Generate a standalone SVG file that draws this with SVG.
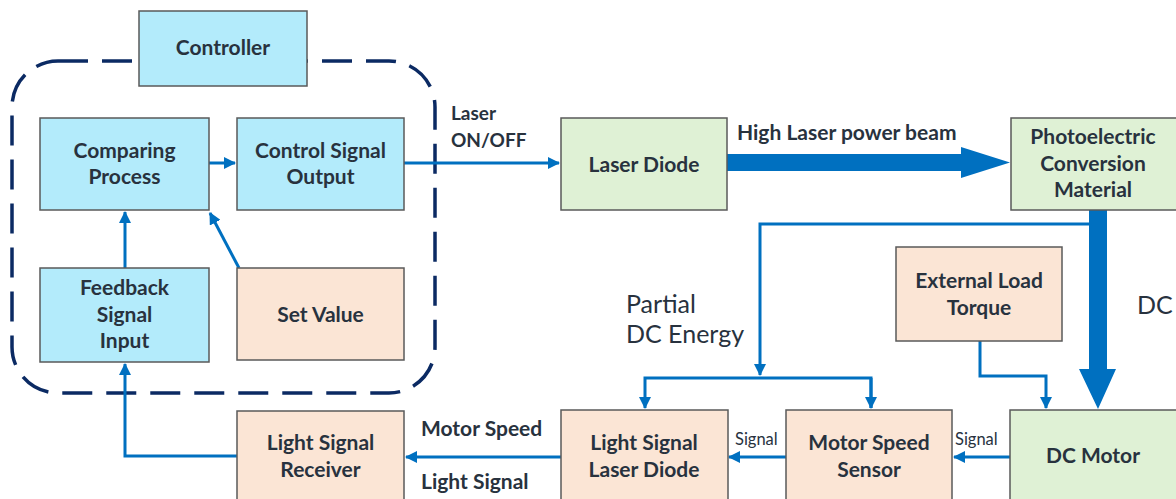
<svg xmlns="http://www.w3.org/2000/svg" width="1176" height="499" viewBox="0 0 1176 499">
<style>
.blue{fill:#b3ebfb;stroke:#5a5a5a;stroke-width:1.5}
.peach{fill:#fbe5d5;stroke:#5a5a5a;stroke-width:1.5}
.green{fill:#dff1d5;stroke:#5a5a5a;stroke-width:1.5}
text{font-family:Lato,"Liberation Sans",sans-serif;fill:#28323e}
.n{font-size:21px;font-weight:bold;text-anchor:middle}
.lb{font-size:21px;font-weight:bold}
.ls{font-size:19px;font-weight:bold}
.lr{font-size:25px}
.sm{font-size:16.5px}
.c{fill:none;stroke:#0070c0;stroke-width:3}
.thick{fill:#0070c0}
</style>
<defs>
<marker id="ah" markerUnits="userSpaceOnUse" markerWidth="12" markerHeight="12" refX="11" refY="6" orient="auto">
<path d="M0,0 L12,6 L0,12 z" fill="#0070c0"/>
</marker>
</defs>
<rect id="boundary" x="12" y="61" width="423" height="332" rx="46" ry="46" fill="none" stroke="#0b2a63" stroke-width="3.5" stroke-dasharray="30 14"/>
<g id="connectors">
<path class="c" d="M209,163 H235" marker-end="url(#ah)"/>
<path class="c" d="M404,163 H559" marker-end="url(#ah)"/>
<path class="c" d="M125,268 V212" marker-end="url(#ah)"/>
<path class="c" d="M239,268 L210,213" marker-end="url(#ah)"/>
<path class="c" d="M237,456 H125 V364" marker-end="url(#ah)"/>
<path class="c" d="M561,457 H406" marker-end="url(#ah)"/>
<path class="c" d="M786,457 H729" marker-end="url(#ah)"/>
<path class="c" d="M1010,457 H954" marker-end="url(#ah)"/>
<path class="c" d="M1090,224 H760 V375" marker-end="url(#ah)"/>
<path class="c" d="M871,408 V378 H645 V408" marker-end="url(#ah)"/>
<path class="c" d="M871,378 V408" marker-end="url(#ah)"/>
<path class="c" d="M980,341 V376 H1046 V408" marker-end="url(#ah)"/>
<polygon class="thick" points="727,154 961,154 961,147 1010,162.5 961,178 961,171 727,171"/>
<polygon class="thick" points="1089,210 1107,210 1107,369 1116,369 1098,409 1079,369 1089,369"/>
<text class="ls" x="451" y="120">Laser</text>
<text class="ls" x="451" y="147">ON/OFF</text>
<text class="lb" x="737" y="140">High Laser power beam</text>
<text class="lr" x="626" y="313">Partial</text>
<text class="lr" x="626" y="343">DC Energy</text>
<text class="lr" x="1137" y="314">DC</text>
<text class="sm" x="735" y="445">Signal</text>
<text class="sm" x="955" y="445">Signal</text>
<text class="lb" x="421" y="436">Motor Speed</text>
<text class="lb" x="421" y="489">Light Signal</text>
</g>
<g id="controller"><rect class="blue" x="139" y="11" width="168" height="75"/><text class="n" x="223" y="55">Controller</text></g>
<g id="comparing"><rect class="blue" x="40" y="118" width="169" height="92"/><text class="n" x="124.5" y="158">Comparing</text><text class="n" x="124.5" y="184">Process</text></g>
<g id="control-output"><rect class="blue" x="237" y="118" width="167" height="92"/><text class="n" x="320.5" y="158">Control Signal</text><text class="n" x="320.5" y="184">Output</text></g>
<g id="feedback"><rect class="blue" x="40" y="268" width="169" height="94"/><text class="n" x="124.5" y="295">Feedback</text><text class="n" x="124.5" y="322">Signal</text><text class="n" x="124.5" y="348">Input</text></g>
<g id="set-value"><rect class="peach" x="237" y="268" width="167" height="92"/><text class="n" x="320.5" y="322">Set Value</text></g>
<g id="receiver"><rect class="peach" x="237" y="411" width="167" height="100"/><text class="n" x="320.5" y="450">Light Signal</text><text class="n" x="320.5" y="477">Receiver</text></g>
<g id="laser-diode"><rect class="green" x="561" y="118" width="166" height="92"/><text class="n" x="644" y="172">Laser Diode</text></g>
<g id="photoelectric"><rect class="green" x="1011" y="118" width="170" height="92"/><text class="n" x="1093" y="144">Photoelectric</text><text class="n" x="1093" y="171">Conversion</text><text class="n" x="1093" y="197">Material</text></g>
<g id="external-load"><rect class="peach" x="896" y="247" width="166" height="94"/><text class="n" x="979" y="288">External Load</text><text class="n" x="979" y="315">Torque</text></g>
<g id="ls-laser-diode"><rect class="peach" x="561" y="410" width="167" height="100"/><text class="n" x="644" y="450">Light Signal</text><text class="n" x="644" y="477">Laser Diode</text></g>
<g id="speed-sensor"><rect class="peach" x="786" y="410" width="166" height="100"/><text class="n" x="869" y="450">Motor Speed</text><text class="n" x="869" y="477">Sensor</text></g>
<g id="dc-motor"><rect class="green" x="1010" y="410" width="170" height="100"/><text class="n" x="1093" y="463">DC Motor</text></g>
</svg>
